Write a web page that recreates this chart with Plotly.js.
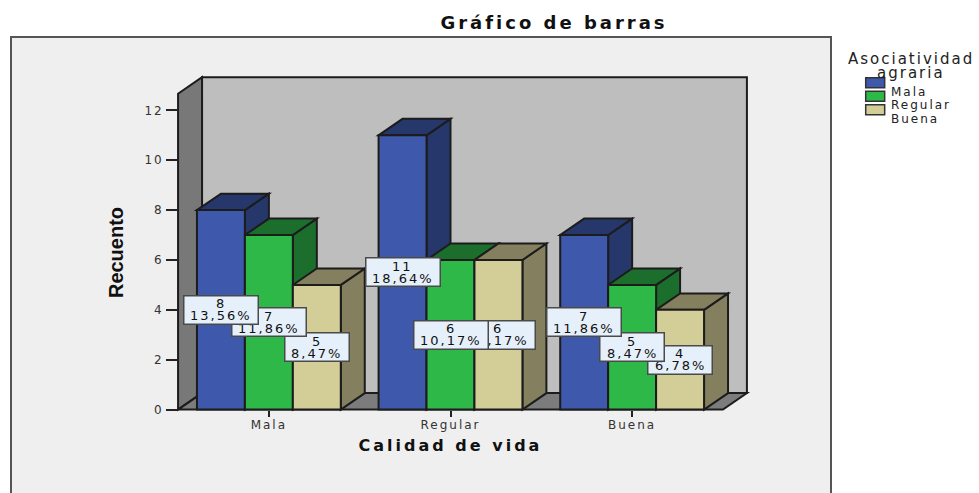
<!DOCTYPE html>
<html>
<head>
<meta charset="utf-8">
<script src="https://cdn.plot.ly/plotly-3.0.1.min.js"></script>
<style>
  html, body { margin: 0; padding: 0; background: #fff; }
  #frame { position: absolute; left: 10px; top: 36px; width: 822px; height: 460px; background: #efefef; border: 2px solid #555; box-sizing: border-box; }
  #chart { position: absolute; left: 0; top: 0; width: 979px; height: 493px; }
  .xtick text, .ytick text { letter-spacing: 2px; }
  .gtitle { letter-spacing: 3px; }
  .xtitle { letter-spacing: 3px; }
  .annotation-text { letter-spacing: 2px; }
</style>
</head>
<body>
<div id="frame"></div>
<div id="chart"></div>
<script>
// Grouped bars, SPSS style: the 3D faces are shapes on the same axes as the bars
const categories = ['Mala', 'Regular', 'Buena'];
const seriesNames = ['Mala', 'Regular', 'Buena'];
const mala = [8, 11, 7];
const regular = [7, 6, 5];
const buena = [5, 6, 4];
const malaPct = ['13,56%', '18,64%', '11,86%'];
const regularPct = ['11,86%', '10,17%', '8,47%'];
const buenaPct = ['8,47%', '10,17%', '6,78%'];
const yTicks = [0, 2, 4, 6, 8, 10, 12];
const legendTitle = ['Asociatividad', 'agraria'];

const values = [mala, regular, buena];
const pcts = [malaPct, regularPct, buenaPct];
const frontColors = ['#3e58ac', '#2eb848', '#d3ce97'];
const darkColors = ['#26376b', '#1c6e2c', '#847f5f'];
const edge = '#1c1c1c';

// pixel scale of the axes, ranges are symmetric so the axis titles land on the right spot
const pxX = 181.8, pxY = 24.94;
const x0px = 177.7, y0px = 410;
const xRange = [-0.66, 2.66], yRange = [-0.9, 13.5];
const barW = 0.264;
const depthX = 0.132, depthY = 0.66;
const wallTop = 12.67;
const xMin = -0.5, xMax = 2.5;

const plotL = x0px - (xMin - xRange[0]) * pxX;
const plotW = (xRange[1] - xRange[0]) * pxX;
const plotB = y0px - yRange[0] * pxY; // yRange[0] is negative
const plotH = (yRange[1] - yRange[0]) * pxY;
const paperX = px => (px - plotL) / plotW;
const paperY = py => (plotB - py) / plotH;

function poly(points, fill) {
  return {
    type: 'path', layer: 'below', xref: 'x', yref: 'y',
    path: 'M' + points.map(p => p[0] + ',' + p[1]).join('L') + 'Z',
    fillcolor: fill, line: { color: edge, width: 2 }
  };
}

const shapes = [
  poly([[xMin + depthX, depthY], [xMax + depthX, depthY], [xMax + depthX, wallTop + depthY], [xMin + depthX, wallTop + depthY]], '#bebebe'),
  poly([[xMin, 0], [xMin + depthX, depthY], [xMin + depthX, wallTop + depthY], [xMin, wallTop]], '#787878'),
  poly([[xMin, 0], [xMax, 0], [xMax + depthX, depthY], [xMin + depthX, depthY]], '#7c7c7c')
];

const annotations = [];
function label(x, y, count, pct) {
  const base = { xref: 'x', yref: 'y', x: x, y: y, showarrow: false, font: { family: 'DejaVu Sans', size: 13, color: '#111' } };
  annotations.push({ ...base, text: ' ', width: pct.length > 5 ? 73 : 63, height: 27, borderpad: 0, bgcolor: '#e6f0fb', bordercolor: '#4a4a4a', borderwidth: 1.5 });
  annotations.push({ ...base, text: String(count), yshift: 6 });
  annotations.push({ ...base, text: pct, yshift: -6 });
}

categories.forEach((c, j) => {
  values.forEach((vals, i) => {
    const left = j + (i - 1.5) * barW, right = left + barW, v = vals[j];
    shapes.push(poly([[right, 0], [right + depthX, depthY], [right + depthX, v + depthY], [right, v]], darkColors[i]));
    shapes.push(poly([[left, v], [right, v], [right + depthX, v + depthY], [left + depthX, v + depthY]], darkColors[i]));
  });
});

// earlier series sit on top of later ones in the picture
categories.forEach((c, j) => {
  for (let i = values.length - 1; i >= 0; i--) {
    label(j + (i - 1) * barW, values[i][j] / 2, values[i][j], pcts[i][j]);
  }
});

// hand-built legend, the plotly one cannot pack rows this tight
legendTitle.forEach((t, k) => {
  annotations.push({
    xref: 'paper', yref: 'paper', x: paperX(911), y: paperY(48 + k * 14), xanchor: 'center', showarrow: false, text: t,
    font: { family: 'DejaVu Sans', size: 15, color: '#222' }
  });
});
seriesNames.forEach((n, i) => {
  const py = 83 + i * 13.5;
  shapes.push({
    type: 'rect', xref: 'paper', yref: 'paper', x0: paperX(866), x1: paperX(885), y0: paperY(py - 5), y1: paperY(py + 5),
    fillcolor: frontColors[i], line: { color: '#333', width: 1.5 }
  });
  annotations.push({
    xref: 'paper', yref: 'paper', x: paperX(889), y: paperY(py), xanchor: 'left', showarrow: false, text: n,
    font: { family: 'DejaVu Sans', size: 12, color: '#222' }
  });
});

const traces = seriesNames.map((n, i) => ({
  type: 'bar', name: n, x: categories.map((c, j) => j), y: values[i],
  marker: { color: frontColors[i], line: { color: edge, width: 2 } },
  hoverinfo: 'x+y'
}));

const layout = {
  width: 979, height: 493,
  margin: { l: plotL, r: 979 - plotL - plotW, t: plotB - plotH, b: 493 - plotB, pad: 0 },
  paper_bgcolor: 'rgba(0,0,0,0)', plot_bgcolor: 'rgba(0,0,0,0)',
  font: { family: 'DejaVu Sans', color: '#222' },
  showlegend: false,
  barmode: 'group', bargap: 1 - 3 * barW, bargroupgap: 0,
  title: { text: 'Gráfico de barras', x: 554 / 979, xanchor: 'center', y: 1 - 23 / 493, yanchor: 'middle', font: { family: 'DejaVu Sans', size: 18, weight: 'bold', color: '#111' } },
  xaxis: {
    range: xRange, anchor: 'free', position: (0 - yRange[0]) / (yRange[1] - yRange[0]),
    tickmode: 'array', tickvals: categories.map((c, j) => j), ticktext: categories,
    ticks: 'outside', ticklen: 6, tickwidth: 1.5, tickcolor: '#222',
    ticklabelstandoff: -2,
    tickfont: { size: 12, color: '#333' },
    showgrid: false, zeroline: false, showline: false,
    title: { text: 'Calidad de vida', standoff: 8, font: { family: 'DejaVu Sans', size: 16, weight: 'bold', color: '#111' } }
  },
  yaxis: {
    range: yRange, anchor: 'free', position: (xMin - xRange[0]) / (xRange[1] - xRange[0]),
    tickmode: 'array', tickvals: yTicks,
    ticks: 'outside', ticklen: 12, tickwidth: 1.5, tickcolor: '#222',
    tickfont: { size: 12, color: '#333' },
    showgrid: false, zeroline: false, showline: false,
    title: { text: 'Recuento', standoff: 14, font: { family: '"Liberation Sans Narrow", "Liberation Sans"', size: 20, weight: 'bold', color: '#111' } }
  },
  shapes: shapes,
  annotations: annotations
};

Plotly.newPlot('chart', traces, layout, { displayModeBar: false });
</script>
</body>
</html>
